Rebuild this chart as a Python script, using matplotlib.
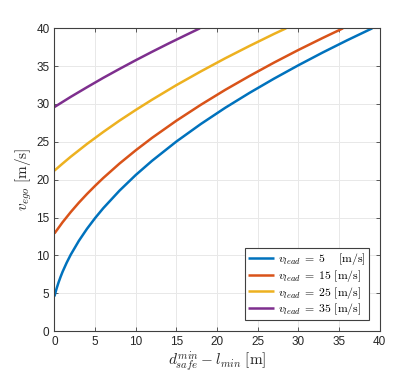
import matplotlib
matplotlib.use("Agg")
import matplotlib.pyplot as plt

# Data
x_lead5 = [0, 0.1, 0.25, 0.5, 0.75, 1, 1.5, 2, 3, 4, 5, 6, 8, 10, 12, 15, 18, 21, 24, 27, 30, 33, 36, 39.1]
v_lead5 = [4.58, 5.00, 5.58, 6.42, 7.16, 7.84, 9.03, 10.09, 11.92, 13.51, 14.93, 16.23, 18.55, 20.62,
           22.49, 25.04, 27.35, 29.49, 31.47, 33.34, 35.11, 36.80, 38.41, 40.0]
x_lead15 = [0, 1, 2, 3, 4, 5, 6, 8, 10, 12, 15, 18, 21, 24, 27, 30, 33, 35.5]
v_lead15 = [12.90, 14.38, 15.72, 16.96, 18.11, 19.19, 20.22, 22.13, 23.88, 25.52, 27.79, 29.89,
            31.86, 33.70, 35.46, 37.13, 38.72, 40.0]
x_lead25 = [0, 1, 2, 4, 6, 8, 10, 12, 15, 18, 21, 24, 27, 28.5]
v_lead25 = [21.2, 22.13, 23.03, 24.72, 26.30, 27.80, 29.21, 30.56, 32.49, 34.30, 36.03, 37.67, 39.25, 40.0]
x_lead35 = [0, 2, 4, 6, 8, 10, 12, 14, 16, 17.9]
v_lead35 = [29.6, 30.94, 32.21, 33.45, 34.63, 35.78, 36.89, 37.97, 39.02, 40.0]

labels = [r'$v_{lead}\;=\;5\ \ \ \ [\mathrm{m/s}]$',
          r'$v_{lead}\;=\;15\ [\mathrm{m/s}]$',
          r'$v_{lead}\;=\;25\ [\mathrm{m/s}]$',
          r'$v_{lead}\;=\;35\ [\mathrm{m/s}]$']
colors = ['#0072BD', '#D95319', '#EDB120', '#7E2F8E']
xticks = [0, 5, 10, 15, 20, 25, 30, 35, 40]
yticks = [0, 5, 10, 15, 20, 25, 30, 35, 40]

plt.rcParams['mathtext.fontset'] = 'cm'
plt.rcParams['font.family'] = ['Liberation Sans', 'DejaVu Sans']

fig = plt.figure(figsize=(4.19, 3.72), dpi=100)
ax = fig.add_axes([0.130, 0.110, 0.776, 0.814])

series = [(x_lead5, v_lead5), (x_lead15, v_lead15), (x_lead25, v_lead25), (x_lead35, v_lead35)]
for (xs, vs), c, lab in zip(series, colors, labels):
    ax.plot(xs, vs, color=c, lw=1.8, label=lab, solid_capstyle='butt')

ax.set_xlim(0, 40)
ax.set_ylim(0, 40)
ax.set_xticks(xticks)
ax.set_yticks(yticks)
ax.grid(True, color='#e8e8e8', lw=0.7)
ax.set_axisbelow(True)
edge = '#404040'
for s in ax.spines.values():
    s.set_color(edge)
    s.set_linewidth(0.8)
ax.tick_params(direction='in', length=3, width=0.6, color=edge, labelcolor='#262626',
               labelsize=8.5, top=True, right=True)

ax.set_xlabel(r'$d_{safe}^{min} - l_{min}\ [\mathrm{m}]$', fontsize=11, color='#262626', labelpad=1)
ax.set_ylabel(r'$v_{ego}\ [\mathrm{m/s}]$', fontsize=11, color='#262626', labelpad=2)

leg = ax.legend(loc='lower right', bbox_to_anchor=(1 - 11/325, 11/302.7), borderaxespad=0,
                fontsize=8.5, fancybox=False, framealpha=1, edgecolor='#404040',
                handlelength=2.2, handletextpad=0.3, labelspacing=0.05, borderpad=0.25)
leg.get_frame().set_linewidth(0.8)

fig.savefig('out.png', dpi=100)
